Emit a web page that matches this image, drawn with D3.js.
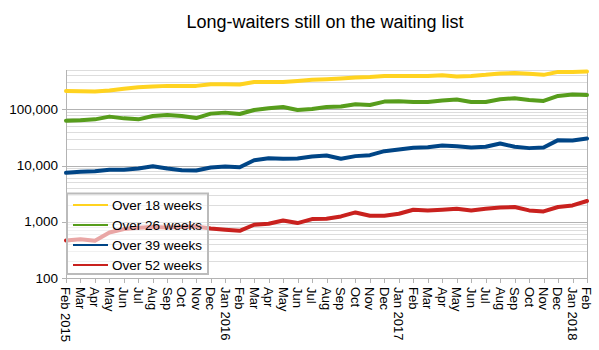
<!DOCTYPE html>
<html>
<head>
<meta charset="utf-8">
<script src="https://cdn.jsdelivr.net/npm/d3@7"></script>
<style>
  html, body { margin: 0; padding: 0; background: #fff; }
  svg { display: block; font-family: "Liberation Sans", Arial, sans-serif; }
</style>
</head>
<body>
<svg id="chart" width="599" height="350"></svg>
<script>
const months = ["Feb 2015","Mar","Apr","May","Jun","Jul","Aug","Sep","Oct","Nov","Dec",
  "Jan 2016","Feb","Mar","Apr","May","Jun","Jul","Aug","Sep","Oct","Nov","Dec",
  "Jan 2017","Feb","Mar","Apr","May","Jun","Jul","Aug","Sep","Oct","Nov","Dec",
  "Jan 2018","Feb"];

const over18 = [212000, 209000, 207000, 216000, 232000, 247000, 254000, 261000, 261000, 261000, 280000, 280000, 276000,
  307000, 307000, 307000, 320000, 334000, 343000, 353000, 368000, 377000, 393000, 393000, 393000, 393000,
  405000, 384000, 393000, 410000, 434000, 440000, 427000, 410000, 463000, 463000, 471000];

const over26 = [62900, 63600, 66300, 74100, 69000, 66300, 75900, 79000, 75900, 69900, 83800, 87300, 82400,
  97200, 104000, 110000, 97200, 101000, 110000, 112000, 123000, 119000, 137000, 139000, 135000, 135000,
  143000, 149000, 135000, 135000, 151000, 157000, 147000, 141000, 173000, 183000, 180000];

const over39 = [7410, 7720, 7910, 8380, 8380, 8840, 9720, 8840, 8240, 8140, 9210, 9600, 9330,
  12400, 13500, 13200, 13300, 14500, 15100, 13200, 14700, 15300, 18000, 19300, 20700, 21200,
  22800, 22100, 20900, 21600, 24700, 21600, 20400, 20900, 28300, 27900, 30300];

const over52 = [463, 491, 458, 644, 741, 781, 804, 791, 804, 824, 759, 720, 690,
  884, 921, 1055, 948, 1117, 1132, 1244, 1466, 1280, 1280, 1389, 1638, 1592,
  1638, 1707, 1592, 1707, 1800, 1830, 1592, 1527, 1830, 1954, 2343];

const seriesNames = ["Over 18 weeks", "Over 26 weeks", "Over 39 weeks", "Over 52 weeks"];
const yTickValues = [100, 1000, 10000, 100000];
const title = "Long-waiters still on the waiting list";

const colors = ["#ffd320", "#579d1c", "#004586", "#c9211e"];
const series = [over18, over26, over39, over52];

const svg = d3.select("#chart");
const pLeft = 66, pRight = 587, pTop = 70, pBottom = 278;

const x = d3.scalePoint().domain(d3.range(months.length)).range([pLeft, pRight]);
const y = d3.scaleLog().domain([100, 500000]).range([pBottom, pTop]);

// title
svg.append("text").attr("x", 325).attr("y", 28).attr("text-anchor", "middle")
  .attr("font-size", 18).attr("fill", "#000").text(title);

// minor gridlines
const minor = [];
for (let d = 100; d < 500000; d *= 10) {
  for (let k = 2; k <= 9; k++) { const v = d * k; if (v <= 500000) minor.push(v); }
}
svg.append("g").selectAll("line").data(minor).join("line")
  .attr("x1", pLeft).attr("x2", pRight)
  .attr("y1", d => Math.round(y(d)) + 0.5).attr("y2", d => Math.round(y(d)) + 0.5)
  .attr("stroke", "#dddddd").attr("stroke-width", 1);

// major gridlines
svg.append("g").selectAll("line").data(yTickValues).join("line")
  .attr("x1", pLeft - 4).attr("x2", pRight)
  .attr("y1", d => Math.round(y(d)) + 0.5).attr("y2", d => Math.round(y(d)) + 0.5)
  .attr("stroke", "#b3b3b3").attr("stroke-width", 1);

// y axis line & right border
svg.append("line").attr("x1", pLeft + 0.5).attr("x2", pLeft + 0.5).attr("y1", pTop).attr("y2", pBottom)
  .attr("stroke", "#b3b3b3");
svg.append("line").attr("x1", pRight + 0.5).attr("x2", pRight + 0.5).attr("y1", pTop).attr("y2", pBottom)
  .attr("stroke", "#b3b3b3");

// y labels
svg.append("g").selectAll("text").data(yTickValues).join("text")
  .attr("x", 58).attr("y", d => y(d)).attr("dy", "0.35em")
  .attr("text-anchor", "end").attr("font-size", 13.5).attr("fill", "#000")
  .text(d => d3.format(",")(d));

// x ticks
svg.append("g").selectAll("line").data(months.map((m, i) => i)).join("line")
  .attr("x1", d => Math.round(x(d)) + 0.5).attr("x2", d => Math.round(x(d)) + 0.5)
  .attr("y1", pBottom).attr("y2", pBottom + 5)
  .attr("stroke", "#b3b3b3");

// x labels
svg.append("g").selectAll("text").data(months).join("text")
  .attr("transform", (d, i) => `translate(${x(i)},287) rotate(90)`)
  .attr("dy", "0.35em").attr("text-anchor", "start")
  .attr("font-size", 13).attr("fill", "#000").text(d => d);

// lines
const line = d3.line().x((d, i) => x(i)).y(d => y(d));
svg.append("g").selectAll("path").data(series).join("path")
  .attr("d", d => line(d))
  .attr("fill", "none").attr("stroke", (d, i) => colors[i])
  .attr("stroke-width", 4).attr("stroke-linejoin", "round").attr("stroke-linecap", "round");

// legend
const lg = svg.append("g");
lg.append("rect").attr("x", 67).attr("y", 193.5).attr("width", 141).attr("height", 80.5)
  .attr("fill", "#fff").attr("fill-opacity", 0.6)
  .attr("stroke", "#bbbbbb").attr("stroke-width", 2);
seriesNames.forEach((name, i) => {
  const cy = 205 + i * 20;
  lg.append("line").attr("x1", 73).attr("x2", 108).attr("y1", cy).attr("y2", cy)
    .attr("stroke", colors[i]).attr("stroke-width", 2);
  lg.append("text").attr("x", 112).attr("y", cy).attr("dy", "0.35em")
    .attr("font-size", 13.5).attr("fill", "#000").text(name);
});
</script>
</body>
</html>
